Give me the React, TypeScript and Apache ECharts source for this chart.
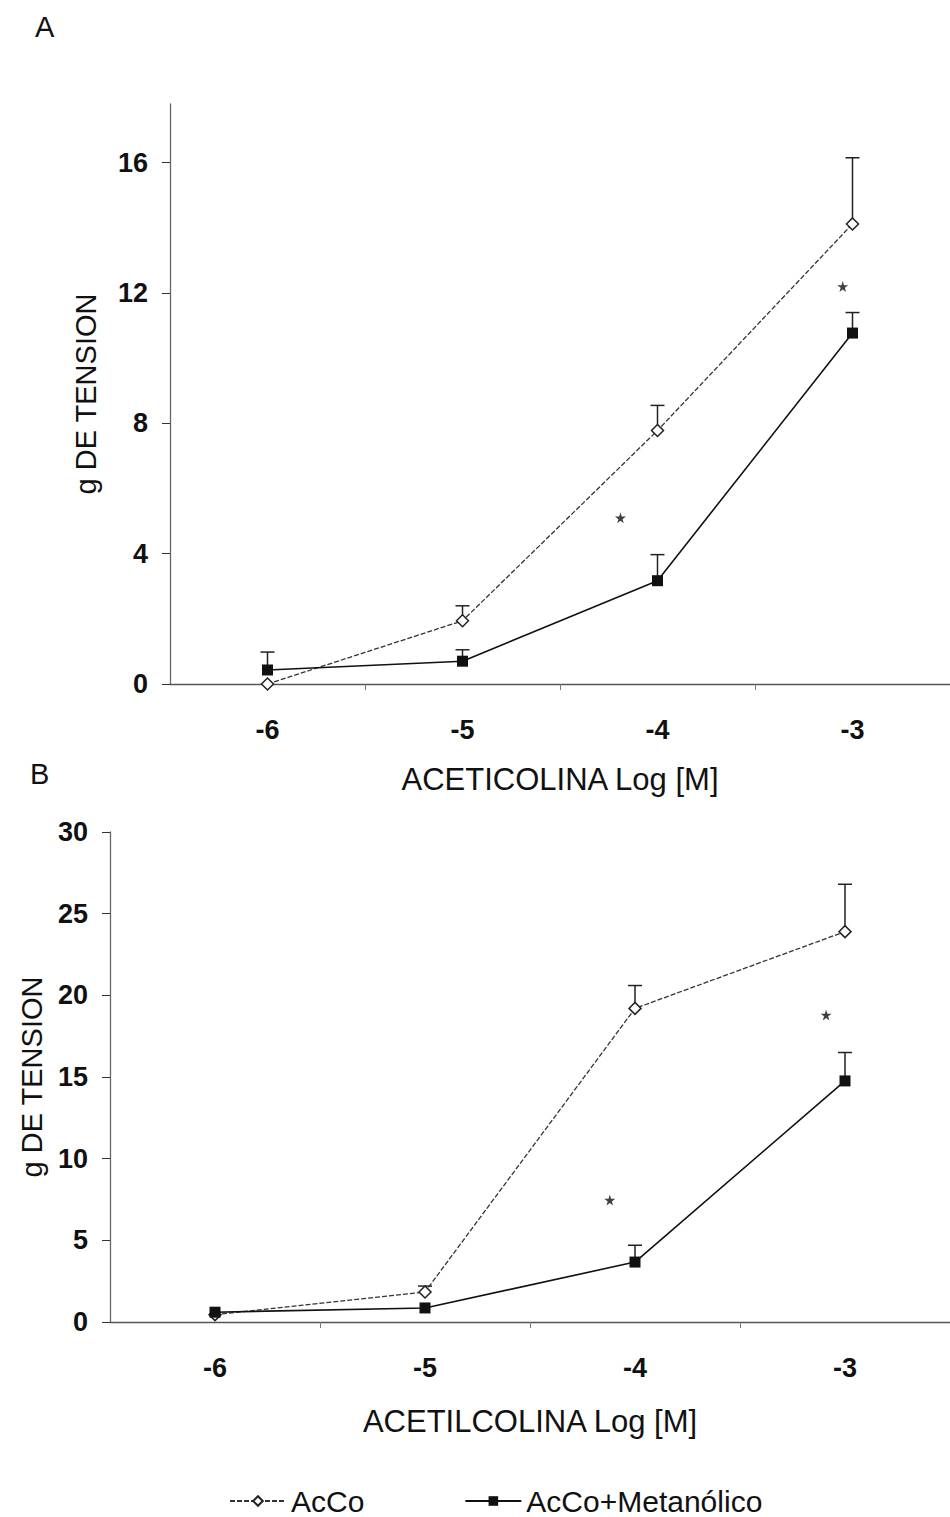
import React, { useEffect, useRef } from "react";
import * as echarts from "echarts";

const doses = [-6, -5, -4, -3];
const xTickLabels = [-6, -5, -4, -3];
const xTickMarks = [-5.5, -4.5, -3.5];

// Panel A
const aAcCo = [0.0, 1.94, 7.78, 14.12];
const aAcCoErr = [0.0, 2.4, 8.55, 16.15];
const aMet = [0.43, 0.7, 3.17, 10.77];
const aMetErr = [0.98, 1.05, 3.97, 11.4];
const aStars = [[-4.19, 5.1], [-3.05, 12.2]];
const aYTicks = [0, 4, 8, 12, 16];

// Panel B
const bAcCo = [0.45, 1.84, 19.2, 23.9];
const bAcCoErr = [0.45, 2.2, 20.6, 26.8];
const bMet = [0.6, 0.86, 3.67, 14.76];
const bMetErr = [0.6, 0.86, 4.7, 16.5];
const bStars = [[-4.12, 7.47], [-3.09, 18.8]];

const NAME_ACCO = "AcCo";
const NAME_MET = "AcCo+Metanólico";

const FONT = "Liberation Sans, Arial, sans-serif";
const STAR =
  "path://M50,0 L61,35 L98,35 L68,57 L79,91 L50,70 L21,91 L32,57 L2,35 L39,35 Z";

function errSeries(xi: number, means: number[], tops: number[]) {
  return {
    type: "custom",
    xAxisIndex: xi,
    yAxisIndex: xi,
    silent: true,
    z: 1,
    data: doses.map((d, i) => [d, means[i], tops[i]]),
    renderItem: (_p: any, api: any) => {
      if (api.value(2) <= api.value(1)) return { type: "group", children: [] };
      const p0 = api.coord([api.value(0), api.value(1)]);
      const p1 = api.coord([api.value(0), api.value(2)]);
      return {
        type: "group",
        children: [
          {
            type: "line",
            shape: { x1: p0[0], y1: p0[1], x2: p1[0], y2: p1[1] },
            style: { stroke: "#222", lineWidth: 1.5 },
          },
          {
            type: "line",
            shape: { x1: p1[0] - 7, y1: p1[1], x2: p1[0] + 7, y2: p1[1] },
            style: { stroke: "#222", lineWidth: 1.5 },
          },
        ],
      };
    },
  };
}

function lineSeries(xi: number, name: string, vals: number[]) {
  const isAcCo = name === NAME_ACCO;
  return {
    type: "line",
    name,
    xAxisIndex: xi,
    yAxisIndex: xi,
    z: 3,
    data: doses.map((d, i) => [d, vals[i]]),
    symbol: isAcCo ? "diamond" : "rect",
    symbolSize: isAcCo ? 12 : 11,
    itemStyle: isAcCo
      ? { color: "#fff", borderColor: "#222", borderWidth: 1.5 }
      : { color: "#111", borderColor: "#111", borderWidth: 0 },
    lineStyle: isAcCo
      ? { color: "#333", width: 1.3, type: [5, 2] }
      : { color: "#111", width: 1.6, type: "solid" },
  };
}

function starSeries(xi: number, pts: number[][]) {
  return {
    type: "scatter",
    xAxisIndex: xi,
    yAxisIndex: xi,
    silent: true,
    symbol: STAR,
    symbolSize: 11,
    itemStyle: { color: "#111" },
    data: pts,
  };
}

const xAxisBase = (gridIndex: number, nameText: string, nameGap: number) => ({
  type: "value",
  gridIndex,
  min: -6.5,
  max: -2.5,
  name: nameText,
  nameLocation: "middle",
  nameGap,
  nameTextStyle: { fontFamily: FONT, fontSize: 31, color: "#111" },
  axisLine: { show: true, onZero: false, lineStyle: { color: "#555", width: 1.3 } },
  axisTick: { show: true, inside: false, length: 6, customValues: xTickMarks, lineStyle: { color: "#777" } },
  axisLabel: {
    customValues: xTickLabels,
    margin: 32,
    fontFamily: FONT,
    fontSize: 27,
    fontWeight: "bold",
    color: "#111",
    formatter: (v: number) => String(v),
  },
  splitLine: { show: false },
});

const yAxisBase = (gridIndex: number, nameGap: number) => ({
  type: "value",
  gridIndex,
  name: "g DE TENSION",
  nameLocation: "middle",
  nameGap,
  nameRotate: 90,
  nameTextStyle: { fontFamily: FONT, fontSize: 29, color: "#111" },
  axisLine: { show: true, lineStyle: { color: "#666", width: 1.3 } },
  axisTick: { show: true, inside: false, length: 8, lineStyle: { color: "#333" } },
  axisLabel: {
    margin: 22,
    fontFamily: FONT,
    fontSize: 27,
    fontWeight: "bold",
    color: "#111",
  },
  splitLine: { show: false },
});

export default function App() {
  const ref = useRef<HTMLDivElement>(null);
  useEffect(() => {
    if (!ref.current) return;
    const chart = echarts.init(ref.current, null, { renderer: "svg" });
    const yA = yAxisBase(0, 70);
    const option: any = {
      animation: false,
      backgroundColor: "#fff",
      textStyle: { fontFamily: FONT },
      grid: [
        { left: 170, top: 104, width: 788, height: 580 },
        { left: 110, top: 832, width: 840, height: 490 },
      ],
      xAxis: [
        xAxisBase(0, "ACETICOLINA Log [M]", 80),
        xAxisBase(1, "ACETILCOLINA Log [M]", 84),
      ],
      yAxis: [
        {
          ...yA,
          min: 0,
          max: 17.8,
          axisLabel: { ...yA.axisLabel, customValues: aYTicks },
          axisTick: { ...yA.axisTick, customValues: aYTicks },
        },
        { ...yAxisBase(1, 64), min: 0, max: 30, interval: 5 },
      ],
      legend: {
        data: [NAME_ACCO, NAME_MET],
        left: 224,
        top: 1481,
        itemWidth: 56,
        itemHeight: 12,
        itemGap: 100,
        textStyle: { fontFamily: FONT, fontSize: 30, color: "#111" },
      },
      graphic: [
        { type: "text", left: 35, top: 12, style: { text: "A", font: `29px ${FONT}`, fill: "#111" } },
        { type: "text", left: 30, top: 759, style: { text: "B", font: `29px ${FONT}`, fill: "#111" } },
      ],
      series: [
        errSeries(0, aAcCo, aAcCoErr),
        errSeries(0, aMet, aMetErr),
        lineSeries(0, NAME_ACCO, aAcCo),
        lineSeries(0, NAME_MET, aMet),
        starSeries(0, aStars),
        errSeries(1, bAcCo, bAcCoErr),
        errSeries(1, bMet, bMetErr),
        lineSeries(1, NAME_ACCO, bAcCo),
        lineSeries(1, NAME_MET, bMet),
        starSeries(1, bStars),
      ],
    };
    chart.setOption(option);
    return () => chart.dispose();
  }, []);
  return (
    <div
      ref={ref}
      style={{ position: "absolute", left: 0, top: 0, width: 950, height: 1517 }}
    />
  );
}
